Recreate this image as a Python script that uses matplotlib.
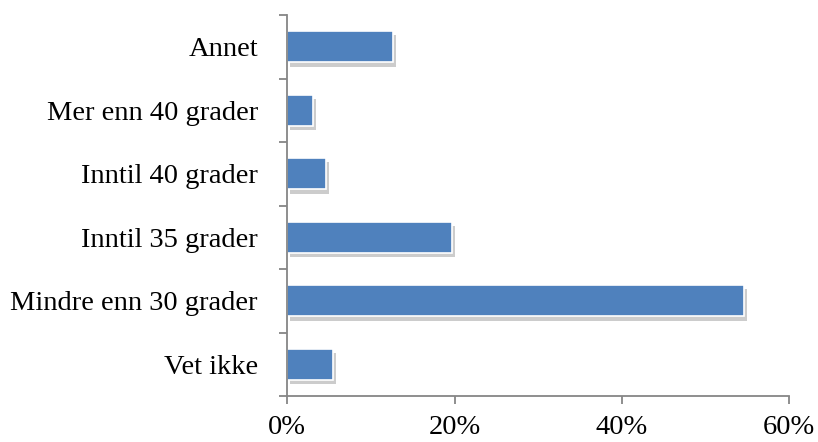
import matplotlib.pyplot as plt
import matplotlib.patheffects as pe
import numpy as np

categories = ['Vet ikke', 'Mindre enn 30 grader', 'Inntil 35 grader',
              'Inntil 40 grader', 'Mer enn 40 grader', 'Annet']
values = [5.5, 54.6, 19.7, 4.7, 3.1, 12.7]
xticks = [0, 20, 40, 60]

plt.rcParams['font.family'] = ['Liberation Serif', 'DejaVu Serif']

fig = plt.figure(figsize=(8.18, 4.42), dpi=100)
ax = fig.add_axes([0.351, 0.104, 0.614, 0.862])

y = np.arange(len(categories))
bars = ax.barh(y, values, height=0.49, color='#4F81BD', edgecolor='white', linewidth=1.2)
for b in bars:
    b.set_path_effects([pe.SimplePatchShadow(offset=(2, -3), shadow_rgbFace='#808080', alpha=0.4),
                        pe.Normal()])

ax.set_xlim(0, 60)
ax.set_ylim(-0.5, len(categories) - 0.5)
ax.set_xticks(xticks)
ax.set_xticklabels([f'{v}%' for v in xticks], fontsize=20.5)
ax.set_yticks(np.arange(len(categories) + 1) - 0.5)
ax.set_yticklabels([])
ax.set_yticks(y, minor=True)
ax.set_yticklabels(categories, minor=True, fontsize=20.5)
ax.tick_params(axis='y', which='minor', length=0, pad=21)
ax.tick_params(axis='y', which='major', length=6, width=1.3, color='#868686')
ax.tick_params(axis='x', length=6, width=1.3, color='#868686', pad=8)

for s in ['top', 'right']:
    ax.spines[s].set_visible(False)
for s in ['left', 'bottom']:
    ax.spines[s].set_color('#868686')
    ax.spines[s].set_linewidth(1.3)

fig.savefig('out.png', dpi=100)
